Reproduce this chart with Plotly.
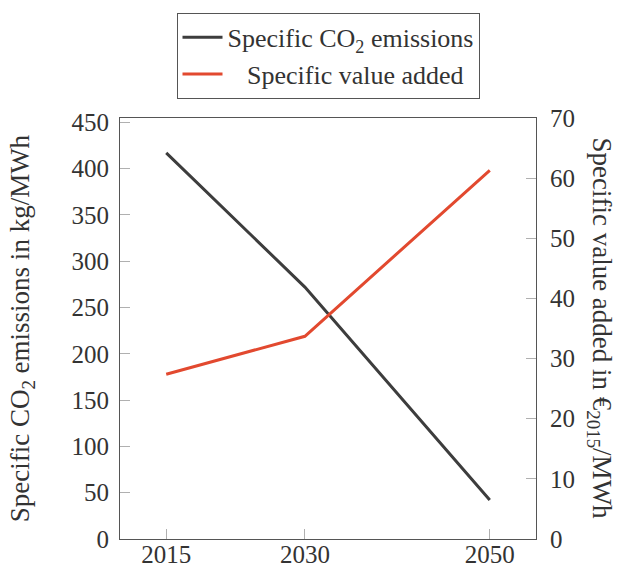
import plotly.graph_objects as go

# Scenario years and indicators
years = [2015, 2030, 2050]
co2_emissions = [417, 272, 42]          # kg/MWh
value_added = [27.4, 33.7, 61.3]        # EUR2015/MWh

co2_tick_vals = [0, 50, 100, 150, 200, 250, 300, 350, 400, 450]
va_tick_vals = [0, 10, 20, 30, 40, 50, 60, 70]

FONT = "'Liberation Serif', 'DejaVu Serif', serif"
FS = 25
FS_TITLE = 27
FS_LEGEND = 26
TXT = "#333333"
BLACK = "#3d3d3d"
RED = "#e2492f"
FRAME = "#555555"
TICK = "#b0b0b0"

fig = go.Figure()
fig.add_trace(go.Scatter(
    x=years, y=co2_emissions, mode="lines",
    name="Specific CO<sub>2</sub> emissions",
    line=dict(color=BLACK, width=3), yaxis="y",
))
fig.add_trace(go.Scatter(
    x=years, y=value_added, mode="lines",
    name="\u00a0\u00a0\u00a0Specific value added",
    line=dict(color=RED, width=3), yaxis="y2",
))

fig.update_layout(
    width=619, height=568,
    margin=dict(l=120, r=83, t=118, b=29),
    paper_bgcolor="white", plot_bgcolor="white",
    font=dict(family=FONT, size=FS, color=TXT),
    showlegend=True,
    legend=dict(
        x=0.5, xanchor="center", y=1.25, yanchor="top",
        bordercolor=FRAME, borderwidth=1, bgcolor="white",
        font=dict(family=FONT, size=FS_LEGEND, color=TXT),
        tracegroupgap=0, itemwidth=40,
    ),
    xaxis=dict(
        range=[2010, 2055], tickvals=years, ticktext=[str(y) for y in years],
        ticks="inside", ticklen=10, tickcolor=TICK, tickwidth=1,
        showline=True, linecolor=FRAME, linewidth=1, mirror=True,
        showgrid=False, zeroline=False, automargin=False,
        ticklabelstandoff=-7,
        tickfont=dict(family=FONT, size=FS, color=TXT),
    ),
    yaxis=dict(
        range=[0, 454.6], tickvals=co2_tick_vals,
        ticks="inside", ticklen=10, tickcolor=TICK, tickwidth=1,
        showline=True, linecolor=FRAME, linewidth=1,
        showgrid=False, zeroline=False, automargin=False,
        ticklabelstandoff=5,
        tickfont=dict(family=FONT, size=FS, color=TXT),
    ),
    yaxis2=dict(
        range=[0, 70], tickvals=va_tick_vals, overlaying="y", side="right",
        ticks="inside", ticklen=10, tickcolor=TICK, tickwidth=1,
        showline=True, linecolor=FRAME, linewidth=1,
        showgrid=False, zeroline=False, automargin=False,
        ticklabelstandoff=8,
        tickfont=dict(family=FONT, size=FS, color=TXT),
    ),
)

# Axis titles as rotated annotations
fig.add_annotation(
    text="Specific CO<sub>2</sub> emissions in kg/MWh",
    xref="paper", yref="paper", x=-0.236, y=0.5,
    xanchor="center", yanchor="middle", textangle=-90,
    showarrow=False, font=dict(family=FONT, size=FS_TITLE, color=TXT),
)
fig.add_annotation(
    text="Specific value added in \u20ac<sub>2015</sub>/MWh",
    xref="paper", yref="paper", x=1.154, y=0.5,
    xanchor="center", yanchor="middle", textangle=90,
    showarrow=False, font=dict(family=FONT, size=FS_TITLE, color=TXT),
)

fig.write_html("out.html")
